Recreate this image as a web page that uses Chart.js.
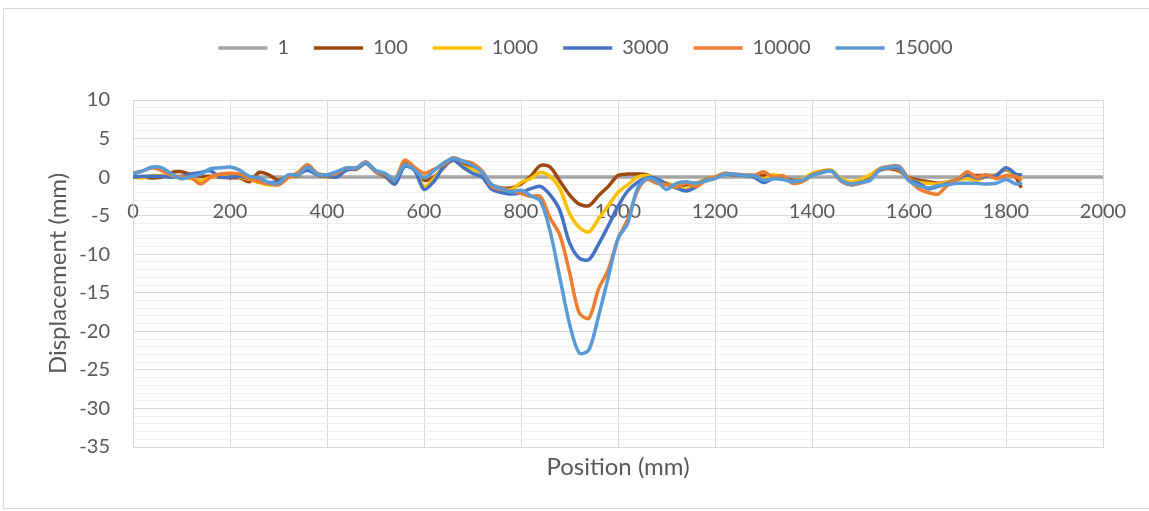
<!DOCTYPE html>
<html>
<head>
<meta charset="utf-8">
<script src="https://cdn.jsdelivr.net/npm/chart.js@4"></script>
<style>
  html, body { margin: 0; padding: 0; background: #fff; overflow: hidden; }
  #frame { position: absolute; left: 3px; top: 8px; width: 1160px; height: 499px; border: 1px solid #d9d9d9; }
  #chart { position: absolute; left: 0; top: 0; }
</style>
</head>
<body>
<div id="frame"></div>
<canvas id="chart" width="1149" height="511"></canvas>
<script>
// positions along the track (mm)
const positions = [0, 20, 40, 60, 80, 100, 120, 140, 160, 180, 200, 220, 240, 260, 280, 300, 320, 340, 360, 380,
    400, 420, 440, 460, 480, 500, 520, 540, 560, 580, 600, 620, 640, 660, 680, 700, 720, 740, 760, 780,
    800, 820, 840, 860, 880, 900, 920, 940, 960, 980, 1000, 1020, 1040, 1060, 1080, 1100, 1120, 1140, 1160, 1180,
    1200, 1220, 1240, 1260, 1280, 1300, 1320, 1340, 1360, 1380, 1400, 1420, 1440, 1460, 1480, 1500, 1520, 1540, 1560, 1580,
    1600, 1620, 1640, 1660, 1680, 1700, 1720, 1740, 1760, 1780, 1800, 1820, 1830];

// cycle 1 is the reference line
const positions1 = [0, 500, 1000, 1500, 2000];
const disp1 = [0, 0, 0, 0, 0];

const disp100 = [0.1, 0.0, -0.1, 0.0, 0.6, 0.7, 0.3, 0.1, 0.1, 0.0, -0.1, -0.1, -0.6, 0.6, 0.3, -0.4, 0.1, 0.2, 1.2, 0.3,
    0.1, 0.1, 1.1, 1.0, 1.8, 0.7, 0.1, -0.9, 1.7, 1.0, -0.4, 0.0, 1.2, 2.2, 1.6, 1.2, 0.5, -1.0, -1.4, -1.4,
    -0.9, 0.1, 1.5, 1.3, -0.5, -2.3, -3.5, -3.7, -2.4, -1.2, 0.2, 0.4, 0.4, 0.3, -0.4, -0.8, -1.2, -1.0, -0.8, -0.3,
    0.0, 0.4, 0.3, 0.3, 0.2, 0.2, 0.1, 0.0, -0.4, -0.3, 0.4, 0.7, 0.8, -0.3, -0.7, -0.5, 0.0, 0.9, 1.1, 0.8,
    -0.1, -0.4, -0.6, -0.8, -0.6, -0.3, 0.1, 0.2, 0.2, 0.3, 1.0, 0.0, -1.2];

const disp1000 = [0.0, -0.1, 0.2, 0.2, 0.2, 0.0, -0.2, -0.5, 0.0, 0.2, 0.3, 0.0, -0.3, -0.7, -1.0, -0.9, 0.0, 0.3, 1.0, 0.3,
    0.2, 0.2, 1.0, 1.1, 1.8, 0.8, 0.2, -0.6, 1.5, 1.0, -1.2, -0.2, 1.3, 2.2, 1.4, 1.0, 0.4, -1.3, -1.5, -1.6,
    -0.7, -0.2, 0.6, 0.1, -1.5, -4.7, -6.5, -7.1, -5.4, -3.7, -2.0, -1.0, 0.0, 0.2, -0.4, -0.8, -1.1, -1.6, -0.9, -0.3,
    0.0, 0.5, 0.3, 0.3, 0.2, -0.2, 0.3, 0.0, -0.5, -0.3, 0.5, 0.8, 0.9, -0.2, -0.6, -0.3, 0.3, 1.1, 1.2, 1.0,
    -0.2, -0.7, -0.8, -0.9, -0.6, -0.3, -0.2, -0.4, 0.1, 0.3, 1.1, 0.1, 0.0];

const disp3000 = [0.0, 0.1, 0.1, 0.1, 0.0, 0.1, 0.4, 0.6, 0.8, 0.0, 0.0, 0.1, -0.2, -0.5, -0.7, -0.6, 0.1, 0.4, 0.9, 0.3,
    0.2, 0.0, 0.9, 1.1, 1.8, 0.8, 0.2, -0.9, 1.4, 0.9, -1.6, -0.6, 1.3, 2.2, 1.3, 0.5, 0.0, -1.6, -2.0, -2.2,
    -2.0, -1.5, -1.2, -2.3, -4.3, -8.5, -10.5, -10.7, -8.7, -6.3, -3.8, -1.8, -0.7, -0.1, -0.2, -0.9, -1.4, -1.8, -1.3, -0.4,
    -0.1, 0.4, 0.3, 0.2, 0.0, -0.7, -0.2, -0.1, -0.5, -0.5, 0.3, 0.6, 0.8, -0.5, -1.0, -0.7, -0.3, 1.0, 1.2, 1.1,
    -0.3, -0.8, -1.5, -1.2, -0.8, -0.3, 0.3, -0.1, 0.1, 0.2, 1.2, 0.4, 0.3];

const disp10000 = [0.5, 0.8, 1.2, 0.8, 0.2, 0.0, -0.1, -0.9, 0.0, 0.4, 0.5, 0.4, -0.2, -0.6, -0.9, -1.0, -0.1, 0.6, 1.6, 0.5,
    0.3, 0.5, 1.2, 1.2, 2.0, 0.8, 0.4, -0.3, 2.2, 1.3, 0.5, 1.0, 1.6, 2.5, 2.1, 1.8, 0.8, -1.2, -1.6, -1.8,
    -2.1, -2.5, -2.5, -5.3, -7.5, -12.3, -17.6, -18.3, -14.5, -12.0, -8.0, -5.5, -1.8, -0.3, -0.8, -1.0, -1.3, -0.8, -1.2, -0.5,
    0.0, 0.5, 0.4, 0.3, 0.2, 0.7, 0.0, 0.2, -0.8, -0.6, 0.2, 0.7, 0.8, -0.5, -1.0, -0.8, -0.3, 1.1, 1.4, 1.4,
    -0.3, -1.5, -2.0, -2.2, -1.0, -0.3, 0.7, 0.0, 0.3, -0.2, 0.2, 0.1, -0.3];

const disp15000 = [0.4, 0.8, 1.3, 1.2, 0.4, -0.2, 0.1, 0.4, 1.1, 1.2, 1.3, 0.9, 0.1, -0.1, -0.7, -0.8, 0.3, 0.3, 1.3, 0.4,
    0.3, 0.7, 1.2, 1.2, 1.9, 0.9, 0.5, -0.3, 1.6, 1.0, -0.1, 0.8, 1.8, 2.4, 2.1, 1.5, 0.6, -1.0, -1.5, -1.9,
    -1.7, -2.4, -3.1, -7.0, -13.0, -19.0, -22.8, -22.4, -18.0, -13.0, -8.0, -6.0, -1.5, -0.2, -0.5, -1.6, -0.8, -0.6, -0.8, -0.5,
    -0.2, 0.4, 0.4, 0.2, 0.2, -0.4, -0.2, -0.3, -0.6, -0.4, 0.2, 0.6, 0.8, -0.4, -0.9, -0.7, -0.4, 1.0, 1.3, 1.3,
    -0.5, -1.1, -1.4, -1.1, -1.0, -0.8, -0.8, -0.8, -0.9, -0.8, -0.3, -0.9, -0.8];

const seriesNames = ['1', '100', '1000', '3000', '10000', '15000'];
const seriesColors = ['#A5A5A5', '#9E480E', '#FFC000', '#4472C4', '#ED7D31', '#5B9BD5'];

const textColor = '#595959';
const fontFamily = 'Lato, "Open Sans", sans-serif';

function points(xs, ys) {
    return xs.map((x, i) => ({ x: x, y: ys[i] }));
}

const allSeries = [
    points(positions1, disp1),
    points(positions, disp100),
    points(positions, disp1000),
    points(positions, disp3000),
    points(positions, disp10000),
    points(positions, disp15000)
];

const datasets = allSeries.map((pts, i) => ({
    label: seriesNames[i],
    data: pts,
    borderColor: seriesColors[i],
    backgroundColor: seriesColors[i],
    borderWidth: 3.5,
    pointRadius: 0,
    tension: 0.3,
    borderCapStyle: 'round',
    borderJoinStyle: 'round',
    order: seriesNames.length - i   // later cycles drawn on top, like the original
}));

// extra room under the legend and a small nudge to the right
const legendSpacer = {
    id: 'legendSpacer',
    beforeInit(chart) {
        const fit = chart.legend.fit;
        chart.legend.fit = function () {
            fit.call(this);
            this.height += 32;
        };
        const draw = chart.legend.draw;
        chart.legend.draw = function () {
            const c = this.ctx;
            c.save();
            c.translate(13, 0);
            draw.call(this);
            c.restore();
        };
    }
};

const ctx = document.getElementById('chart');
new Chart(ctx, {
    type: 'line',
    data: { datasets: datasets },
    plugins: [legendSpacer],
    options: {
        responsive: false,
        animation: false,
        layout: {
            padding: { top: 13, right: 46, bottom: 25, left: 42 }
        },
        plugins: {
            legend: {
                position: 'top',
                reverse: true,
                labels: {
                    usePointStyle: true,
                    pointStyle: 'line',
                    pointStyleWidth: 49,
                    padding: 25,
                    color: textColor,
                    font: { family: fontFamily, size: 20 }
                }
            },
            tooltip: { enabled: false }
        },
        scales: {
            x: {
                type: 'linear',
                position: 'bottom',
                min: 0,
                max: 2000,
                ticks: { display: false, stepSize: 200 },
                grid: { color: '#d9d9d9', drawTicks: false },
                border: { color: '#d9d9d9' },
                title: {
                    display: true,
                    text: 'Position (mm)',
                    color: textColor,
                    font: { family: fontFamily, size: 24 },
                    padding: { top: 6, bottom: 4 }
                },
                afterFit: function (scale) { scale.height = 39; }
            },
            xLabels: {
                type: 'linear',
                axis: 'x',
                position: { y: 0 },
                min: 0,
                max: 2000,
                ticks: {
                    stepSize: 200,
                    padding: 22,
                    color: textColor,
                    font: { family: fontFamily, size: 20 },
                    maxRotation: 0,
                    callback: function (value) { return String(value); }
                },
                grid: { display: false, drawTicks: false },
                border: { display: false }
            },
            y: {
                min: -35,
                max: 10,
                ticks: {
                    stepSize: 1,
                    autoSkip: false,
                    padding: 23,
                    color: textColor,
                    font: { family: fontFamily, size: 20 },
                    callback: function (value) { return value % 5 === 0 ? value : ''; }
                },
                grid: {
                    drawTicks: false,
                    color: function (c) { return c.tick && c.tick.value % 5 === 0 ? '#d9d9d9' : '#efefef'; }
                },
                border: { color: '#d9d9d9' },
                title: {
                    display: true,
                    text: 'Displacement (mm)',
                    color: textColor,
                    font: { family: fontFamily, size: 24 },
                    padding: { top: 2, bottom: 9 }
                },
                afterFit: function (scale) { scale.width = 91; }
            }
        }
    }
});
</script>
</body>
</html>
